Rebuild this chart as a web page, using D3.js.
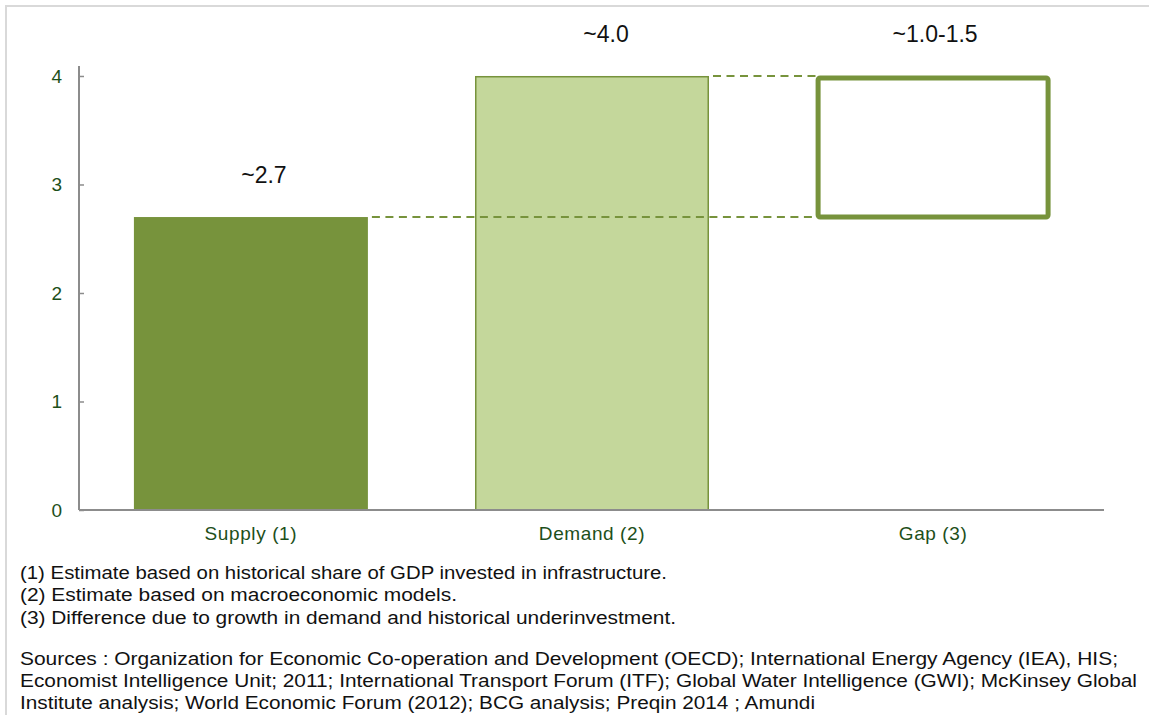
<!DOCTYPE html>
<html>
<head>
<meta charset="utf-8">
<script src="https://cdn.jsdelivr.net/npm/d3@7"></script>
<style>
  body { margin: 0; background: #fff; }
  svg { display: block; font-family: "Liberation Sans", Arial, sans-serif; }
</style>
</head>
<body>
<svg id="chart" width="1149" height="715"></svg>
<script>
// values
var categories = ["Supply (1)", "Demand (2)", "Gap (3)"];
var barBase = [0, 0, 2.7];
var barTop = [2.7, 4.0, 4.0];
var valueLabels = ["~2.7", "~4.0", "~1.0-1.5"];
var yTicks = [0, 1, 2, 3, 4];
var notes = [
  "(1) Estimate based on historical share of GDP invested in infrastructure.",
  "(2) Estimate based on macroeconomic models.",
  "(3) Difference due to growth in demand and historical underinvestment."
];
var sources = [
  "Sources : Organization for Economic Co-operation and Development (OECD); International  Energy Agency (IEA), HIS;",
  "Economist Intelligence Unit; 2011; International Transport Forum (ITF); Global Water Intelligence (GWI); McKinsey Global",
  "Institute analysis; World Economic Forum (2012); BCG analysis;  Preqin 2014 ; Amundi"
];

var svg = d3.select("#chart"),
	left = 79, right = 1105,
	darkGreen = "#77933c",
	lightGreen = "#c4d79b",
	labelGreen = "#1d4f1a",
	axisGray = "#8c8c8c";

// outer frame
svg.append("rect")
	.attr("x", 6).attr("y", 6)
	.attr("width", 1160).attr("height", 720)
	.attr("fill", "none")
	.attr("stroke", "#d9d9d9")
	.attr("stroke-width", 2);

var x = d3.scaleBand()
	.domain(categories)
	.range([left, right])
	.paddingInner(0.314)
	.paddingOuter(0.161);

var y = d3.scaleLinear()
	.domain([0, 4.092])
	.range([510, 66]);

// y axis
var yAxis = svg.append("g")
	.attr("transform", "translate(" + left + ",0)")
	.call(d3.axisRight(y).tickValues(yTicks).tickSize(5).tickFormat(""));
yAxis.select(".domain").attr("stroke", axisGray).attr("stroke-width", 2).attr("d", "M0," + y(4.092) + "V" + y(0));
yAxis.selectAll(".tick line").attr("stroke", axisGray).attr("stroke-width", 1.5);

svg.append("g").selectAll("text")
	.data(yTicks)
	.join("text")
	.attr("x", 62)
	.attr("y", function(d) { return y(d); })
	.attr("dy", "0.36em")
	.attr("text-anchor", "end")
	.attr("font-size", 19)
	.attr("fill", labelGreen)
	.text(function(d) { return d; });

// bars
var idx = d3.range(categories.length);

// supply
svg.append("rect")
	.attr("x", x(categories[0]))
	.attr("y", y(barTop[0]))
	.attr("width", x.bandwidth())
	.attr("height", y(barBase[0]) - y(barTop[0]))
	.attr("fill", darkGreen);

// demand
svg.append("rect")
	.attr("x", x(categories[1]) + 0.75)
	.attr("y", y(barTop[1]) + 0.75)
	.attr("width", x.bandwidth() - 1.5)
	.attr("height", y(barBase[1]) - y(barTop[1]) - 0.75)
	.attr("fill", lightGreen)
	.attr("stroke", darkGreen)
	.attr("stroke-width", 1.5);

// gap outline
svg.append("rect")
	.attr("x", x(categories[2]) + 2)
	.attr("y", y(barTop[2]) + 2)
	.attr("width", x.bandwidth() - 4)
	.attr("height", y(barBase[2]) - y(barTop[2]) - 2)
	.attr("rx", 2)
	.attr("fill", "none")
	.attr("stroke", darkGreen)
	.attr("stroke-width", 5);

// dashed connectors
svg.append("line")
	.attr("x1", x(categories[0]) + x.bandwidth() + 4)
	.attr("x2", x(categories[2]))
	.attr("y1", y(barTop[0])).attr("y2", y(barTop[0]))
	.attr("stroke", darkGreen).attr("stroke-width", 2)
	.attr("stroke-dasharray", "8,5.5");
svg.append("line")
	.attr("x1", x(categories[1]) + x.bandwidth() + 4)
	.attr("x2", x(categories[2]))
	.attr("y1", y(barTop[1])).attr("y2", y(barTop[1]))
	.attr("stroke", darkGreen).attr("stroke-width", 2)
	.attr("stroke-dasharray", "8,5.5");

// x axis baseline
svg.append("line")
	.attr("x1", left).attr("x2", right - 1)
	.attr("y1", y(0)).attr("y2", y(0))
	.attr("stroke", axisGray).attr("stroke-width", 2);

// value labels
var labelShift = [13, 14, 2];
svg.append("g").selectAll("text")
	.data(idx)
	.join("text")
	.attr("x", function(i) { return x(categories[i]) + x.bandwidth() / 2 + labelShift[i]; })
	.attr("y", function(i) { return y(barTop[i]) - 34; })
	.attr("text-anchor", "middle")
	.attr("font-size", 23)
	.attr("fill", "#111")
	.text(function(i) { return valueLabels[i]; });

// category labels
svg.append("g").selectAll("text")
	.data(categories)
	.join("text")
	.attr("x", function(d) { return x(d) + x.bandwidth() / 2; })
	.attr("y", 540)
	.attr("text-anchor", "middle")
	.attr("font-size", 19)
	.attr("letter-spacing", 0.6)
	.attr("fill", labelGreen)
	.text(function(d) { return d; });

// footnotes
var noteWidths = [647, 437, 656];
var noteBase = [579, 601, 624];
svg.append("g").selectAll("text")
	.data(notes)
	.join("text")
	.attr("x", 20)
	.attr("y", function(d, i) { return noteBase[i]; })
	.attr("font-size", 17.5)
	.attr("fill", "#111")
	.attr("textLength", function(d, i) { return noteWidths[i]; })
	.attr("lengthAdjust", "spacingAndGlyphs")
	.text(function(d) { return d; });

var sourceWidths = [1098, 1117, 795];
var sourceBase = [665, 687, 709];
svg.append("g").selectAll("text")
	.data(sources)
	.join("text")
	.attr("x", 20)
	.attr("y", function(d, i) { return sourceBase[i]; })
	.attr("font-size", 17.5)
	.attr("fill", "#111")
	.attr("textLength", function(d, i) { return sourceWidths[i]; })
	.attr("lengthAdjust", "spacingAndGlyphs")
	.text(function(d) { return d; });
</script>
</body>
</html>
